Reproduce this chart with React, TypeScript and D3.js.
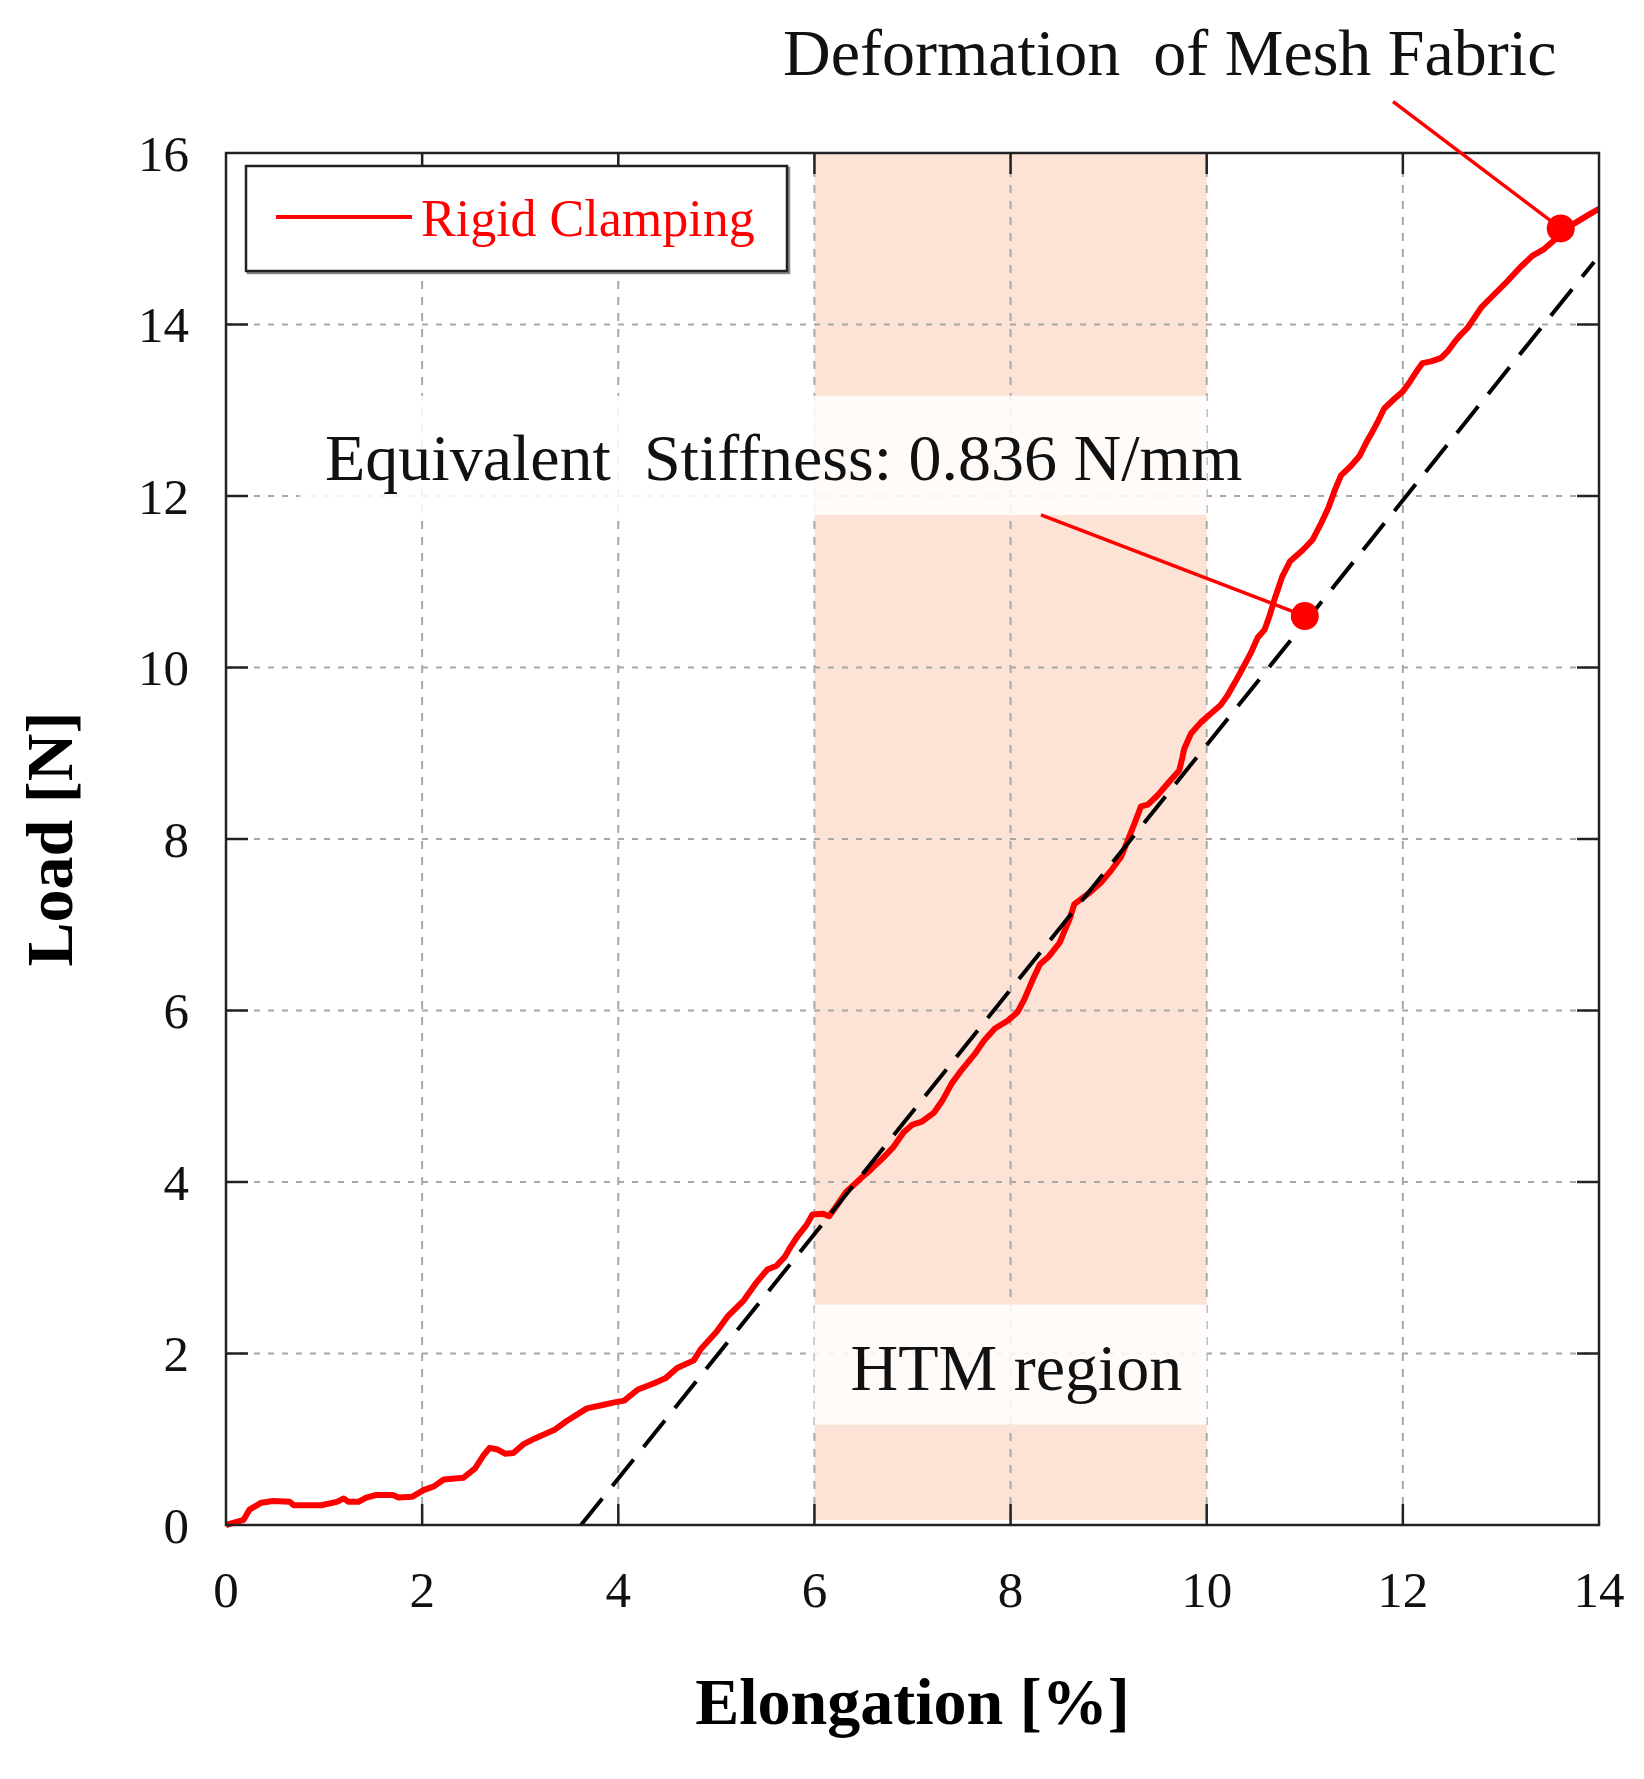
import * as d3 from 'd3';

// Load-elongation curve (rigid clamping)
const elongation = [
  0, 0.18, 0.24, 0.36, 0.48, 0.65, 0.69, 0.97, 1.13, 1.2, 1.25, 1.35, 1.43, 1.53, 1.7, 1.76, 1.9,
  2.02, 2.12, 2.22, 2.42, 2.54, 2.63, 2.69, 2.77, 2.85, 2.93, 3.03, 3.15, 3.35, 3.47, 3.68, 3.84,
  3.96, 4.06, 4.2, 4.36, 4.48, 4.6, 4.77, 4.84, 5.0, 5.12, 5.28, 5.41, 5.52, 5.61, 5.7, 5.76, 5.83,
  5.92, 5.98, 6.09, 6.15, 6.23, 6.32, 6.47, 6.58, 6.69, 6.8, 6.91, 7.0, 7.09, 7.22, 7.31, 7.4, 7.49,
  7.64, 7.73, 7.84, 7.97, 8.07, 8.14, 8.23, 8.3, 8.39, 8.5, 8.54, 8.6, 8.65, 8.79, 8.92, 9.03, 9.13,
  9.19, 9.26, 9.33, 9.4, 9.5, 9.62, 9.72, 9.75, 9.77, 9.84, 9.94, 10.04, 10.14, 10.21, 10.29, 10.38,
  10.45, 10.52, 10.59, 10.64, 10.69, 10.77, 10.85, 10.98, 11.08, 11.17, 11.24, 11.31, 11.37, 11.47,
  11.56, 11.63, 11.69, 11.75, 11.81, 11.92, 12.0, 12.07, 12.15, 12.2, 12.29, 12.39, 12.46, 12.53,
  12.59, 12.66, 12.73, 12.8, 12.93, 13.07, 13.2, 13.32, 13.44, 13.54, 13.61, 13.75, 13.88, 14.0,
];
const load = [
  0, 0.06, 0.18, 0.26, 0.28, 0.27, 0.23, 0.23, 0.27, 0.31, 0.27, 0.27, 0.32, 0.35, 0.35, 0.32, 0.33,
  0.41, 0.45, 0.53, 0.55, 0.66, 0.82, 0.9, 0.88, 0.83, 0.84, 0.94, 1.01, 1.11, 1.21, 1.36, 1.4,
  1.43, 1.45, 1.58, 1.65, 1.71, 1.83, 1.92, 2.05, 2.25, 2.44, 2.62, 2.83, 2.98, 3.02, 3.13, 3.25, 3.37,
  3.5, 3.62, 3.63, 3.6, 3.73, 3.88, 4.04, 4.15, 4.27, 4.4, 4.58, 4.67, 4.7, 4.81, 4.96, 5.15, 5.29,
  5.5, 5.65, 5.79, 5.88, 5.98, 6.13, 6.37, 6.54, 6.63, 6.79, 6.9, 7.06, 7.24, 7.36, 7.49, 7.64, 7.8,
  7.97, 8.17, 8.38, 8.4, 8.51, 8.67, 8.8, 8.94, 9.05, 9.23, 9.36, 9.46, 9.56, 9.67, 9.83, 10.02,
  10.17, 10.35, 10.44, 10.6, 10.79, 11.06, 11.24, 11.37, 11.49, 11.69, 11.86, 12.08, 12.24, 12.35,
  12.47, 12.63, 12.75, 12.88, 13.02, 13.14, 13.22, 13.33, 13.47, 13.55, 13.57, 13.61, 13.69, 13.8,
  13.88, 13.96, 14.08, 14.2, 14.35, 14.51, 14.67, 14.8, 14.88, 14.98, 15.1, 15.18, 15.27, 15.35,
];

// stiffness fit (dashed)
const fitX = [3.62, 13.95];
const fitY = [0, 14.73];

const xTicks = [0, 2, 4, 6, 8, 10, 12, 14];
const yTicks = [0, 2, 4, 6, 8, 10, 12, 14, 16];

const htmRange = [6, 10];

// annotations: [from x, from y, dot x, dot y]
const stiffnessLeader = [8.31, 11.78, 11.0, 10.6];
const meshLeader = [11.9, 16.6, 13.61, 15.12];

const W = 1644;
const H = 1779;
const M = { left: 226, right: 1599, top: 153, bottom: 1525 };
const FONT = '"Liberation Serif", "Times New Roman", serif';
const RED = '#ff0000';

export default function App() {
  const x = d3.scaleLinear().domain([0, 14]).range([M.left, M.right]);
  const y = d3.scaleLinear().domain([0, 16]).range([M.bottom, M.top]);

  const line = d3
    .line<number>()
    .x((_, i) => x(elongation[i]))
    .y((d) => y(d))
    .curve(d3.curveLinear);

  const band = (x0: number, x1: number, y0: number, y1: number) => (
    <rect
      x={x(x0)}
      y={y(y1)}
      width={x(x1) - x(x0)}
      height={y(y0) - y(y1)}
      fill="#ffffff"
      opacity={0.85}
    />
  );

  return (
    <svg
      width={W}
      height={H}
      viewBox={`0 0 ${W} ${H}`}
      style={{ position: 'absolute', left: 0, top: 0, background: '#fff' }}
      fontFamily={FONT}
    >
      {/* HTM region shading */}
      <rect
        x={x(htmRange[0])}
        y={M.top}
        width={x(htmRange[1]) - x(htmRange[0])}
        height={M.bottom - M.top - 5}
        fill="#fde3d6"
      />

      {/* grid */}
      {xTicks.slice(1, -1).map((t) => (
        <line
          key={'gx' + t}
          x1={x(t)}
          x2={x(t)}
          y1={M.top}
          y2={M.bottom}
          stroke="#a8a8a8"
          strokeWidth={2}
          strokeDasharray="8 8"
        />
      ))}
      {yTicks.slice(1, -1).map((t) => (
        <line
          key={'gy' + t}
          x1={M.left}
          x2={M.right}
          y1={y(t)}
          y2={y(t)}
          stroke="#a8a8a8"
          strokeWidth={2}
          strokeDasharray="6 8"
        />
      ))}

      {/* text backing bands */}
      {band(0.75, 10, 11.78, 13.17)}
      {band(6, 10, 1.17, 2.57)}

      {/* data curve */}
      <path d={line(load) ?? ''} fill="none" stroke={RED} strokeWidth={6} strokeLinejoin="round" />

      {/* fitted stiffness line */}
      <line
        x1={x(fitX[0])}
        y1={y(fitY[0])}
        x2={x(fitX[1])}
        y2={y(fitY[1])}
        stroke="#000"
        strokeWidth={4}
        strokeDasharray="34 16"
      />

      {/* frame + ticks */}
      <rect
        x={M.left}
        y={M.top}
        width={M.right - M.left}
        height={M.bottom - M.top}
        fill="none"
        stroke="#222"
        strokeWidth={2.5}
      />
      {xTicks.slice(1, -1).map((t) => (
        <g key={'tx' + t} stroke="#222" strokeWidth={2.5}>
          <line x1={x(t)} x2={x(t)} y1={M.bottom} y2={M.bottom - 21} />
          <line x1={x(t)} x2={x(t)} y1={M.top} y2={M.top + 21} />
        </g>
      ))}
      {yTicks.slice(1, -1).map((t) => (
        <g key={'ty' + t} stroke="#222" strokeWidth={2.5}>
          <line x1={M.left} x2={M.left + 22} y1={y(t)} y2={y(t)} />
          <line x1={M.right} x2={M.right - 22} y1={y(t)} y2={y(t)} />
        </g>
      ))}

      {/* tick labels */}
      {xTicks.map((t) => (
        <text key={'lx' + t} x={x(t)} y={1607} fontSize={51} textAnchor="middle" fill="#111">
          {t}
        </text>
      ))}
      {yTicks.map((t) => (
        <text key={'ly' + t} x={189} y={y(t)} dy="0.35em" fontSize={51} textAnchor="end" fill="#111">
          {t}
        </text>
      ))}

      {/* axis titles */}
      <text
        x={(M.left + M.right) / 2}
        y={1724}
        fontSize={66}
        fontWeight="bold"
        textAnchor="middle"
        fill="#000"
      >
        Elongation [%]
      </text>
      <text
        transform={`translate(72, ${(M.top + M.bottom) / 2}) rotate(-90)`}
        fontSize={66}
        fontWeight="bold"
        textAnchor="middle"
        fill="#000"
      >
        Load [N]
      </text>

      {/* legend */}
      <rect x={248} y={168} width={541} height={105} fill="none" stroke="#888" strokeWidth={2.5} />
      <rect x={246} y={166} width={541} height={105} fill="#fff" stroke="#222" strokeWidth={2.5} />
      <line x1={276} x2={412} y1={217} y2={217} stroke={RED} strokeWidth={4} />
      <text x={421} y={236} fontSize={52} fill={RED}>
        Rigid Clamping
      </text>

      {/* annotations */}
      <text x={325} y={480} fontSize={66} fill="#111" style={{ whiteSpace: 'pre' }}>
        {'Equivalent  Stiffness: 0.836 N/mm'}
      </text>
      <text x={x(8.06)} y={1390} fontSize={66} textAnchor="middle" fill="#111">
        HTM region
      </text>
      <text x={783} y={75} fontSize={66} fill="#111" style={{ whiteSpace: 'pre' }}>
        {'Deformation  of Mesh Fabric'}
      </text>

      {[stiffnessLeader, meshLeader].map((a, i) => (
        <g key={'ann' + i}>
          <line
            x1={x(a[0])}
            y1={y(a[1])}
            x2={x(a[2])}
            y2={y(a[3])}
            stroke={RED}
            strokeWidth={3.5}
          />
          <circle cx={x(a[2])} cy={y(a[3])} r={14} fill={RED} />
        </g>
      ))}
    </svg>
  );
}
